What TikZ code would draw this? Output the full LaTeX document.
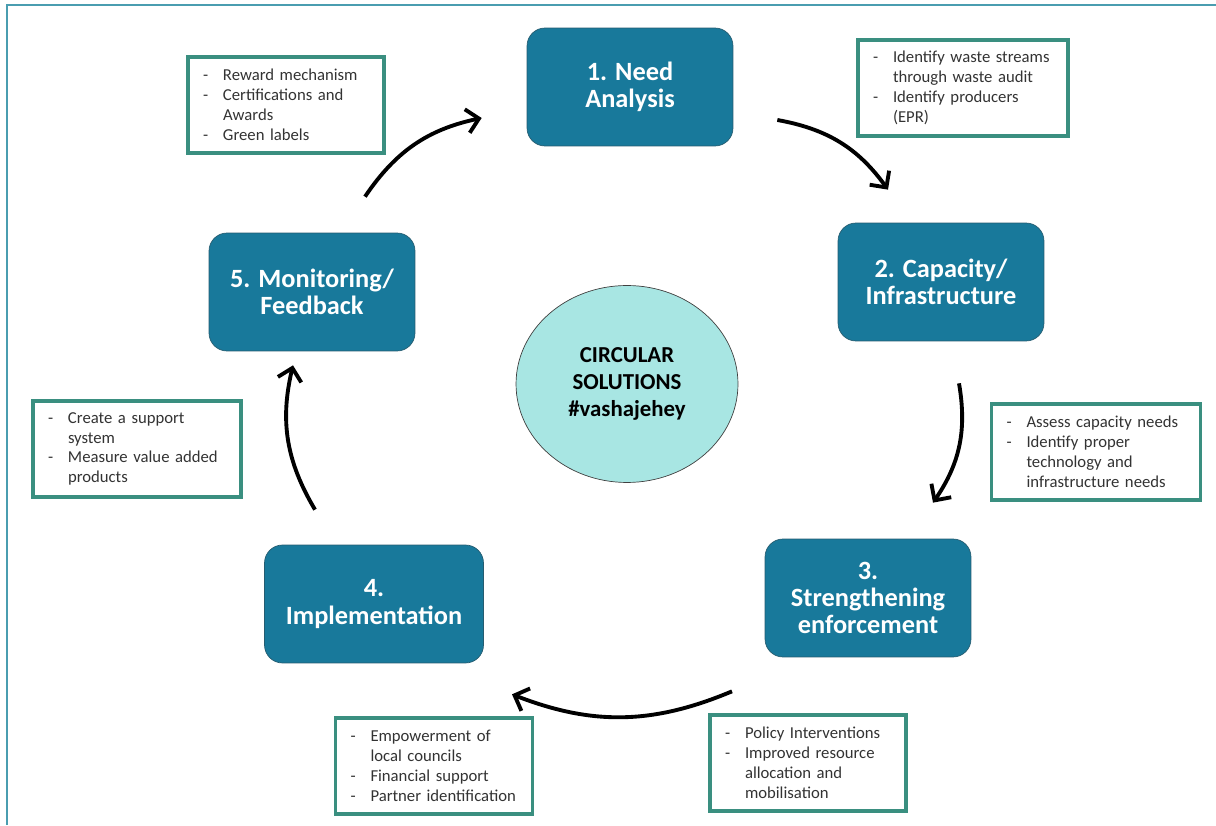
\documentclass[tikz,border=0pt]{standalone}
\usepackage{fontspec}
\setmainfont{Carlito}
\usetikzlibrary{arrows.meta,shapes.geometric}
\definecolor{stagefill}{HTML}{18799B}
\definecolor{stageline}{HTML}{255C70}
\definecolor{hubfill}{HTML}{A8E6E3}
\definecolor{notegreen}{HTML}{3A8F80}
\definecolor{frameblue}{HTML}{4A9DB0}
\definecolor{notetext}{HTML}{333333}
\tikzset{
>={Straight Barb[length=2.4mm,width=4.8mm]}, % open arrow heads
stage/.style={draw=stageline, fill=stagefill, rounded corners=0.36cm,
  minimum width=4.12cm, minimum height=2.36cm, text=white,
  font=\fontsize{15}{15.5}\selectfont\bfseries, align=center},
note/.style={draw=notegreen, line width=2pt, fill=white, inner xsep=0.3cm,
  minimum height=1.92cm, text=notetext,
  font=\fontsize{9.5}{11.3}\selectfont, align=left},
hub/.style={ellipse, draw=black!75, fill=hubfill, inner sep=0pt,
  minimum width=4.44cm, minimum height=3.94cm,
  font=\fontsize{13}{15.3}\selectfont\bfseries, align=center},
cycle/.style={->, line width=2.2pt, bend left=22}
}
\newcommand\itm{\makebox[0.4cm][l]{-}}
\newcommand\cont{\hspace*{0.4cm}}

\begin{document}
\begin{tikzpicture}[x=0.02cm, y=0.02cm]
   \useasboundingbox (0,0) rectangle (1216,825);
   \draw[frameblue, line width=1.3pt] (7,0) |- (1216,820);

   % the five stages and the hub
   \node[stage] (need) at (630,738) {1. Need\\Analysis};
   \node[stage] (cap)  at (941,543) {2. Capacity/\\Infrastructure};
   \node[stage] (str)  at (868,227) {3.\\Strengthening\\enforcement};
   \node[stage, minimum width=4.38cm] (imp) at (374,221) {4.\\Implementation};
   \node[stage] (mon)  at (312,533) {5. Monitoring/\\Feedback};
   \node[hub]   (hub)  at (627,441) {CIRCULAR\\SOLUTIONS\\\#vashajehey};

   % notes beside each stage
   \node[note, text width=3.32cm] (nmon) at (286,720)
     {\itm Reward mechanism\\ \itm Certifications and\\ \cont Awards\\ \itm Green labels};
   \node[note, text width=3.6cm] (nneed) at (963,737)
     {\itm Identify waste streams\\ \cont through waste audit\\ \itm Identify producers\\ \cont (EPR)};
   \node[note, text width=3.58cm] (ncap) at (1096,373)
     {\itm Assess capacity needs\\ \itm Identify proper\\ \cont technology and\\ \cont infrastructure needs};
   \node[note, text width=3.56cm] (nimp) at (137,376)
     {\itm Create a support\\ \cont system\\ \itm Measure value added\\ \cont products};
   \node[note, text width=3.34cm] (nimp2) at (434,59)
     {\itm Empowerment of\\ \cont local councils\\ \itm Financial support\\ \itm Partner identification};
   \node[note, text width=3.32cm] (nstr) at (808,62)
     {\itm Policy Interventions\\ \itm Improved resource\\ \cont allocation and\\ \cont mobilisation};

   \path[cycle]
    ([shift={(53,36)}]mon.north)   edge ([shift={(-45,-31)}]need.west)
    ([shift={(44,-33)}]need.east)  edge ([shift={(-53,33)}]cap.north)
    ([shift={(18,-42)}]cap.south)  edge ([shift={(65,36)}]str.north)
    ([shift={(-136,-34)}]str.south) edge ([shift={(138,-31)}]imp.south)
    ([shift={(-59,35)}]imp.north)  edge ([shift={(-19,-14)}]mon.south);
\end{tikzpicture}
\end{document}
